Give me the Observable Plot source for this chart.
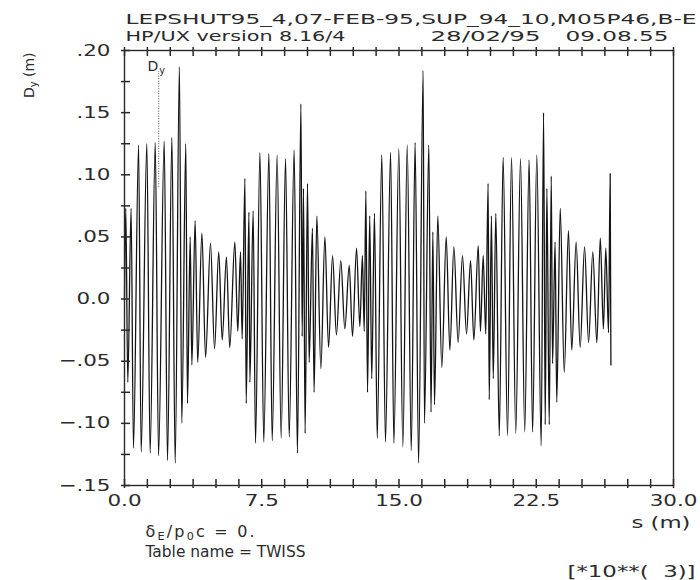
<!DOCTYPE html>
<html><head><meta charset="utf-8">
<script src="https://cdn.jsdelivr.net/npm/d3@7"></script>
<script src="https://cdn.jsdelivr.net/npm/@observablehq/plot@0.6"></script>
<style>
html,body{margin:0;padding:0;background:#fff;}
#chart{width:700px;height:580px;}
svg text{white-space:pre;}
</style></head><body><div id="chart"></div>
<script>
// s (km, shown as "[*10**(3)]" m) of successive extremes of the vertical dispersion
const sPos = [
 0.00, 0.07, 0.18, 0.36, 0.49, 0.77, 0.91, 1.22, 1.40, 1.68, 1.86, 2.17, 2.35, 2.59, 2.77, 3.00, 3.13, 3.35, 3.44, 3.59,
 3.68, 3.86, 4.00, 4.23, 4.43, 4.70, 4.92, 5.15, 5.34, 5.57, 5.75, 6.03, 6.19, 6.34, 6.43, 6.58, 6.65, 6.80, 6.85, 7.03,
 7.16, 7.40, 7.61, 7.89, 8.07, 8.34, 8.56, 8.80, 9.00, 9.27, 9.45, 9.64, 9.71, 9.78, 9.87, 10.00, 10.09, 10.27, 10.36, 10.51,
 10.73, 10.95, 11.15, 11.37, 11.58, 11.82, 12.04, 12.28, 12.46, 12.68, 12.86, 13.00, 13.10, 13.19, 13.28, 13.40, 13.51, 13.66, 13.81, 14.06,
 14.26, 14.54, 14.72, 14.99, 15.21, 15.45, 15.67, 15.88, 16.07, 16.32, 16.39, 16.63, 16.75, 16.85, 16.94, 17.12, 17.34, 17.58, 17.78, 18.00,
 18.23, 18.47, 18.69, 18.91, 19.09, 19.33, 19.45, 19.60, 19.74, 19.87, 19.93, 20.05, 20.15, 20.29, 20.48, 20.69, 20.93, 21.15, 21.38, 21.64,
 21.87, 22.11, 22.30, 22.53, 22.77, 22.90, 22.99, 23.08, 23.21, 23.32, 23.39, 23.53, 23.62, 23.81, 24.03, 24.26, 24.44, 24.68, 24.90, 25.14,
 25.36, 25.59, 25.81, 26.00, 26.17, 26.30, 26.45, 26.54, 26.58
];
// D_y (m) at those positions
const dyVals = [
 0.000, 0.073, -0.067, 0.073, -0.120, 0.124, -0.123, 0.125, -0.124, 0.126, -0.126, 0.127, -0.130, 0.130, -0.132, 0.187, -0.100, 0.125, -0.084, 0.050,
 -0.053, 0.063, -0.051, 0.053, -0.047, 0.045, -0.040, 0.038, -0.033, 0.034, -0.039, 0.046, -0.026, 0.038, -0.032, 0.097, -0.084, 0.070, -0.067, 0.071,
 -0.116, 0.118, -0.115, 0.117, -0.114, 0.116, -0.112, 0.113, -0.111, 0.120, -0.124, 0.157, -0.030, 0.089, -0.108, 0.093, -0.051, 0.057, -0.075, 0.067,
 -0.056, 0.050, -0.039, 0.035, -0.029, 0.031, -0.024, 0.027, -0.030, 0.041, -0.022, 0.035, -0.026, 0.087, -0.075, 0.067, -0.064, 0.069, -0.112, 0.116,
 -0.115, 0.118, -0.116, 0.121, -0.119, 0.124, -0.122, 0.126, -0.132, 0.184, -0.100, 0.124, -0.091, 0.054, -0.085, 0.067, -0.055, 0.050, -0.041, 0.042,
 -0.035, 0.035, -0.028, 0.031, -0.033, 0.043, -0.026, 0.035, -0.028, 0.093, -0.081, 0.067, -0.064, 0.069, -0.110, 0.114, -0.110, 0.114, -0.108, 0.113,
 -0.107, 0.112, -0.107, 0.116, -0.118, 0.150, -0.101, 0.089, -0.101, 0.099, -0.052, 0.046, -0.083, 0.073, -0.059, 0.055, -0.041, 0.046, -0.039, 0.042,
 -0.035, 0.038, -0.035, 0.049, -0.024, 0.041, -0.027, 0.101, -0.053
];
const xTicks = [0, 7.5, 15, 22.5, 30];
const xTickLabels = ["0.0", "7.5", "15.0", "22.5", "30.0"];
const xMinorTicks = [0, 1.25, 2.5, 3.75, 5, 6.25, 7.5, 8.75, 10, 11.25, 12.5, 13.75, 15, 16.25, 17.5, 18.75, 20, 21.25, 22.5, 23.75, 25, 26.25, 27.5, 28.75, 30];
const yTicks = [0.20, 0.15, 0.10, 0.05, 0, -0.05, -0.10, -0.15];
const yTickLabels = [".20", ".15", ".10", ".05", "0.0", "\u2212.05", "\u2212.10", "\u2212.15"];
const yMinorTicks = [0.20, 0.175, 0.15, 0.125, 0.10, 0.075, 0.05, 0.025, 0, -0.025, -0.05, -0.075, -0.10, -0.125, -0.15];
const headerLine1 = ["LEPSHUT95_4,07-FEB-95,SUP_94_10,M05P46,B-E"];
const headerLine2 = ["HP/UX version 8.16/4"];
const headerDate = ["28/02/95"];
const headerTime = ["09.08.55"];
const curveName = [{name: "Dy", s: 1.87, top: 0.183, bottom: 0.09}];
const footer1 = ["\u03b4E/p0c = 0."];
const footer2 = ["Table name = TWISS"];
const scaleNote = ["[*10**(  3)]"];
const xTitle = ["s (m)"];
const yTitle = ["Dy (m)"];

const xDomain = [0, 30], yDomain = [-0.15, 0.20];
const W = 700, H = 580, mL = 124, mR = 27, mT = 50, mB = 95;
// tick lengths converted from pixels into data units of each scale
const pxX = (xDomain[1] - xDomain[0]) / (W - mL - mR);
const pxY = (yDomain[1] - yDomain[0]) / (H - mT - mB);
const tickIn = 6, tickOut = 3;

const data = sPos.map((s, i) => ({s, dy: dyVals[i]}));
const ink = "#2b2b2b";
const axisInk = "#2a2a2a";
const F = "DejaVu Sans";
const fs = 16;
const hfs = 14.5;
const T = (arr, o) => Plot.text(arr, {text: d => d, fill: ink, fontFamily: F, fontSize: fs, ...o});

const chart = Plot.plot({
  width: W, height: H,
  marginLeft: mL, marginRight: mR, marginTop: mT, marginBottom: mB,
  x: {domain: xDomain, axis: null},
  y: {domain: yDomain, axis: null},
  style: {background: "#fff", fontFamily: F, overflow: "visible"},
  marks: [
    Plot.line(data, {x: "s", y: "dy", stroke: "#141414", strokeWidth: 1.3, curve: "monotone-x"}),
    Plot.ruleX(curveName, {x: "s", y1: "bottom", y2: "top", stroke: "#555", strokeWidth: 1, strokeDasharray: "1,1.5"}),
    Plot.text(curveName, {x: "s", y: "top", text: "name", dx: -2, dy: -1, lineAnchor: "bottom", fill: ink, fontFamily: F, fontSize: 14}),
    Plot.frame({stroke: axisInk, strokeWidth: 1.4}),
    Plot.ruleX(xMinorTicks, {x: d => d, y1: () => yDomain[0] - tickOut * pxY, y2: () => yDomain[0] + tickIn * pxY, stroke: axisInk, strokeWidth: 1.5}),
    Plot.ruleX(xMinorTicks, {x: d => d, y1: () => yDomain[1] - tickIn * pxY, y2: () => yDomain[1] + tickOut * pxY, stroke: axisInk, strokeWidth: 1.5}),
    Plot.ruleY(yMinorTicks, {y: d => d, x1: () => xDomain[0] - tickOut * pxX, x2: () => xDomain[0] + tickIn * pxX, stroke: axisInk, strokeWidth: 1.5}),
    Plot.text(xTicks, {x: d => d, text: (d, i) => xTickLabels[i], frameAnchor: "bottom", dy: 20, fill: ink, fontFamily: F, fontSize: fs}),
    Plot.text(yTicks, {y: d => d, text: (d, i) => yTickLabels[i], frameAnchor: "left", dx: -14, textAnchor: "end", fill: ink, fontFamily: F, fontSize: fs}),
    T(headerLine1, {frameAnchor: "top-left", dx: 1, dy: -27, textAnchor: "start", lineAnchor: "bottom", fontSize: hfs}),
    T(headerLine2, {frameAnchor: "top-left", dx: 1, dy: -10, textAnchor: "start", lineAnchor: "bottom", fontSize: hfs}),
    T(headerDate, {frameAnchor: "top-left", dx: 306, dy: -10, textAnchor: "start", lineAnchor: "bottom", fontSize: hfs}),
    T(headerTime, {frameAnchor: "top-left", dx: 441, dy: -10, textAnchor: "start", lineAnchor: "bottom", fontSize: hfs}),
    T(xTitle, {frameAnchor: "bottom-right", dx: 17, dy: 42, textAnchor: "end", lineAnchor: "bottom"}),
    T(footer1, {frameAnchor: "bottom-left", dx: 21, dy: 51, textAnchor: "start", lineAnchor: "bottom"}),
    T(footer2, {frameAnchor: "bottom-left", dx: 21, dy: 71, textAnchor: "start", lineAnchor: "bottom"}),
    T(scaleNote, {frameAnchor: "bottom-right", dx: 22, dy: 91, textAnchor: "end", lineAnchor: "bottom"}),
    T(yTitle, {frameAnchor: "top-left", dx: -100, dy: 2, textAnchor: "end", rotate: -90, fontSize: 14})
  ]
});
document.getElementById("chart").appendChild(chart);

// typographic touch-ups: wide plotter-style lettering and subscripts
const widths = {
  [headerLine1[0]]: 571, [headerLine2[0]]: 220, [headerDate[0]]: 110, [headerTime[0]]: 103,
  [xTitle[0]]: 59, [footer2[0]]: 160, [scaleNote[0]]: 128
};
d3.select(chart).selectAll("text").each(function() {
  const t = this.textContent;
  if (widths[t]) {
    this.setAttribute("textLength", widths[t]);
    this.setAttribute("lengthAdjust", "spacingAndGlyphs");
  } else if (xTickLabels.includes(t) || yTickLabels.includes(t)) {
    const w = this.getComputedTextLength();
    this.setAttribute("textLength", w * 1.34);
    this.setAttribute("lengthAdjust", "spacingAndGlyphs");
  }
});
function rich(el, parts, spacing) {
  const sel = d3.select(el);
  sel.text(null);
  let shift = 0;
  for (const p of parts) {
    const want = p.sub ? 3 : 0;
    const ts = sel.append("tspan").text(p.t).attr("dy", want - shift);
    if (p.sub) ts.attr("font-size", "70%");
    shift = want;
  }
  if (spacing) sel.attr("letter-spacing", spacing);
}
d3.select(chart).selectAll("text").each(function() {
  const t = this.textContent;
  if (t === footer1[0]) rich(this, [{t: "\u03b4"}, {t: "E", sub: true}, {t: "/p"}, {t: "0", sub: true}, {t: "c = 0."}], 2.2);
  else if (t === yTitle[0]) rich(this, [{t: "D"}, {t: "y", sub: true}, {t: " (m)"}], 0);
  else if (t === curveName[0].name) rich(this, [{t: "D"}, {t: "y", sub: true}], 1);
});
</script></body></html>
